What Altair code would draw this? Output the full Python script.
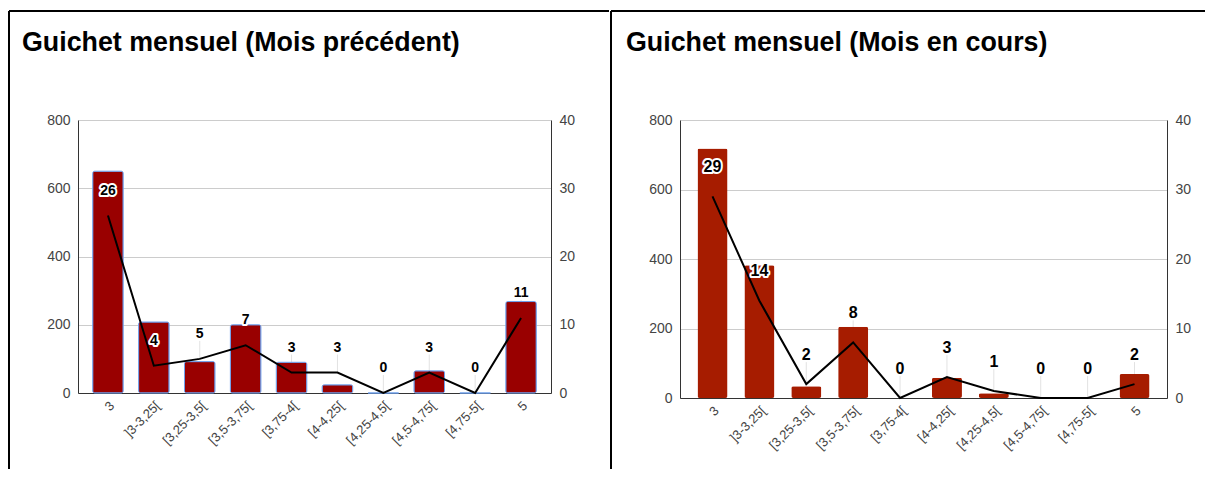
import altair as alt
import pandas as pd

categories = ["3", "]3-3,25[", "[3,25-3,5[", "[3,5-3,75[", "[3,75-4[",
              "[4-4,25[", "[4,25-4,5[", "[4,5-4,75[", "[4,75-5[", "5"]
prev_bars = [650, 208, 92, 200, 90, 24, 0, 65, 0, 268]
prev_counts = [26, 4, 5, 7, 3, 3, 0, 3, 0, 11]
cur_bars = [718, 382, 34, 205, 0, 58, 14, 0, 0, 69]
cur_counts = [29, 14, 2, 8, 0, 3, 1, 0, 0, 2]
titles = ["Guichet mensuel (Mois précédent)", "Guichet mensuel (Mois en cours)"]
left_ticks = [0, 200, 400, 600, 800]
right_ticks = [0, 10, 20, 30, 40]

FONT = "Liberation Sans"


def panel(bars, counts, title, width, height, bar_color, bar_stroke,
          pad_inner, pad_outer, label_size, label_dy, stem_len,
          title_dx, title_offset, border):
    df = pd.DataFrame({"cat": categories, "bar": bars, "count": counts})
    base = alt.Chart(df)
    x = alt.X("cat:N", sort=categories, title=None,
              scale=alt.Scale(paddingInner=pad_inner, paddingOuter=pad_outer),
              axis=alt.Axis(labelAngle=-45, labelFont=FONT, labelFontSize=13,
                            labelColor="#444", ticks=False, domainColor="#333",
                            labelPadding=6, grid=False, labelOverlap=False))
    y_left = alt.Y("bar:Q", title=None,
                   scale=alt.Scale(domain=[0, 800], nice=False),
                   axis=alt.Axis(values=left_ticks, grid=True, gridColor="#cccccc",
                                 ticks=False, domainColor="#333", labelFont=FONT,
                                 labelFontSize=14, labelColor="#444", labelPadding=8))
    right_scale = alt.Scale(domain=[0, 40], nice=False)
    y_right = alt.Y("count:Q", title=None, scale=right_scale,
                    axis=alt.Axis(values=right_ticks, orient="right", grid=False,
                                  ticks=False, domainColor="#333", labelFont=FONT,
                                  labelFontSize=14, labelColor="#444", labelPadding=8))
    bar_kw = dict(color=bar_color, cornerRadius=2)
    if bar_stroke:
        bar_kw.update(stroke=bar_stroke, strokeWidth=1)
    bar_layer = base.mark_bar(**bar_kw).encode(x=x, y=y_left)

    stems = base.mark_rule(color="#e2e2e2", strokeWidth=1, y2Offset=-stem_len).encode(
        x=x, y=alt.Y("count:Q", scale=right_scale, axis=None), y2=alt.Y2("count:Q"))
    line = base.mark_line(color="black", strokeWidth=2).encode(x=x, y=y_right)
    txt_kw = dict(font=FONT, fontSize=label_size, fontWeight="bold",
                  dy=label_dy, baseline="middle", align="center")
    halo = base.mark_text(color="white", stroke="white", strokeWidth=4,
                          strokeJoin="round", **txt_kw).encode(
        x=x, y=y_right, text="count:Q")
    labels = base.mark_text(color="black", **txt_kw).encode(
        x=x, y=y_right, text="count:Q")
    right_layer = alt.layer(line, halo, labels)

    one = alt.Chart(pd.DataFrame({"k": [0]}))
    bx, by, bbottom, bleft, bright = border
    vborder = one.mark_rule(color="black", strokeWidth=2).encode(
        x=alt.value(bx), y=alt.value(by), y2=alt.value(bbottom))
    hborder = one.mark_rule(color="black", strokeWidth=2).encode(
        x=alt.value(bleft), x2=alt.value(bright), y=alt.value(by))

    return alt.layer(stems, bar_layer, right_layer, vborder, hborder).resolve_scale(
        y="independent").properties(
        width=width, height=height,
        title=alt.TitleParams(text=title, anchor="start", frame="group",
                              dx=title_dx, offset=title_offset, fontSize=26.8,
                              font=FONT, fontWeight="bold", color="black",
                              baseline="alphabetic"))


p1 = panel(prev_bars, prev_counts, titles[0], 473, 273, "#990000", "#6d9eeb",
           0.335, 0.32, 14, -25, 18, -56, -68, (-69, -109, 349, -69, 531))
p2 = panel(cur_bars, cur_counts, titles[1], 487, 278, "#a61c00", None,
           0.36, 0.373, 16, -29.5, 22, -54, -68, (-69, -109, 349, -69, 525))

chart = alt.hconcat(p1, p2, spacing=0).properties(
    padding={"left": 0, "top": 2, "right": 0, "bottom": 0}
).configure_view(strokeWidth=0)

chart.save("out.html", embed_options={"renderer": "svg", "actions": False})
